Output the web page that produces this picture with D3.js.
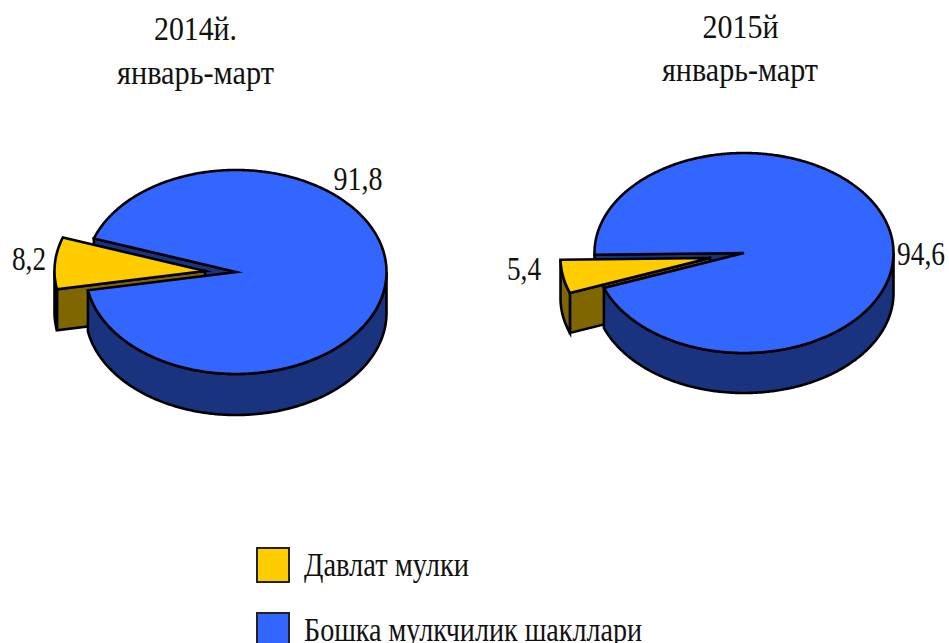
<!DOCTYPE html>
<html><head><meta charset="utf-8">
<script src="https://cdn.jsdelivr.net/npm/d3@7"></script>
<style>html,body{margin:0;padding:0;background:#fff;overflow:hidden}
text{font-family:"Liberation Serif","Times New Roman",serif;fill:#111}</style></head>
<body><svg id="c" width="949" height="643"></svg>
<script>
const categories = ["Давлат мулки", "Бошка мулкчилик шакллари"];
const values2014 = [8.2, 91.8];
const values2015 = [5.4, 94.6];
const valueLabels2014 = ["8,2", "91,8"];
const valueLabels2015 = ["5,4", "94,6"];
const titles2014 = ["2014й.", "январь-март"];
const titles2015 = ["2015й", "январь-март"];
const colors = {top:["#FFCC00","#3366FF"], side:["#806600","#1A337F"]};

const svg = d3.select("#c");
const rad = d => d*Math.PI/180;
const FS = 33;
function label(x,y,t,w,anchor){
  return svg.append("text").attr("x",x).attr("y",y).attr("font-size",FS).attr("text-anchor",anchor||"middle")
    .attr("textLength",w).attr("lengthAdjust","spacingAndGlyphs").text(t);
}

function drawPie(cfg){
  const pie = d3.pie().sort(null).value(d=>d)
    .startAngle(rad(cfg.start)).endAngle(rad(cfg.start+360));
  const arcs = pie([cfg.values[1], cfg.values[0]]);
  const blue = arcs[0], yellow = arcs[1];
  const g = svg.append("g").attr("stroke","#000").attr("stroke-width",2.6).attr("stroke-linejoin","miter").attr("stroke-miterlimit",6);
  const P = (a,c)=>[c[0]+cfg.rx*Math.sin(a), c[1]-cfg.ry*Math.cos(a)];
  const rim = (a0,a1,c)=>{const n=Math.max(2,Math.ceil(Math.abs(a1-a0)/0.01));
    return d3.range(n+1).map(i=>P(a0+(a1-a0)*i/n,c));};
  const line = d3.line();
  const down = (p,d)=>[p[0],p[1]+d];
  const wall = (pts,d)=>line(pts.concat(pts.slice().reverse().map(p=>down(p,d))))+"Z";
  const C=cfg.center, Y=[C[0]+cfg.explode[0],C[1]+cfg.explode[1]];
  // inner wall of the blue slice, behind the wedge
  g.append("path").attr("fill",colors.side[1]).attr("d",wall([C,P(blue.startAngle,C)],cfg.depth));
  // yellow walls
  const yb=P(yellow.startAngle,Y);
  g.append("path").attr("fill",colors.side[0]).attr("d",wall([Y,yb],cfg.depth));
  g.append("path").attr("fill",colors.side[0]).attr("d",wall(rim(yellow.startAngle,Math.min(rad(630),yellow.endAngle),Y),cfg.depth));
  // yellow top
  g.append("path").attr("fill",colors.top[0]).attr("d",line([Y].concat(rim(yellow.startAngle,yellow.endAngle,Y)))+"Z");
  // blue outer wall, front half only
  g.append("path").attr("fill",colors.side[1]).attr("d",wall(rim(rad(450),blue.endAngle,C),cfg.depth));
  // blue top
  g.append("path").attr("fill",colors.top[1]).attr("d",line([C].concat(rim(blue.startAngle,blue.endAngle,C)))+"Z");
  cfg.valueLabels.forEach((t,i)=>label(cfg.labels[i][0],cfg.labels[i][1],t,cfg.labels[i][2]));
  cfg.titles.forEach((t,i)=>label(cfg.titleX[i],cfg.titleY[i],t,cfg.titleW[i]));
}

drawPie({values:values2014,valueLabels:valueLabels2014,titles:titles2014,center:[236,272],rx:150.5,ry:102,depth:41,
  start:289.2,explode:[-31,-1],labels:[[29,270,34],[358,190,49]],titleX:[195.5,195.5],titleY:[39.5,84],titleW:[83,157]});
drawPie({values:values2015,valueLabels:valueLabels2015,titles:titles2015,center:[744,253],rx:149.5,ry:100,depth:40,
  start:269,explode:[-34,5],labels:[[524,280,34],[921,265,48]],titleX:[740.5,740],titleY:[38,81],titleW:[76,156]});

const legendY=d3.scalePoint().domain(categories).range([565,630]);
categories.forEach((c,i)=>{
  const y=legendY(c);
  svg.append("rect").attr("x",257).attr("y",y-17).attr("width",32).attr("height",34).attr("fill",colors.top[i]).attr("stroke","#222").attr("stroke-width",2);
  label(304,y+10.5,c,i?338:165,"start");
});
</script></body></html>
